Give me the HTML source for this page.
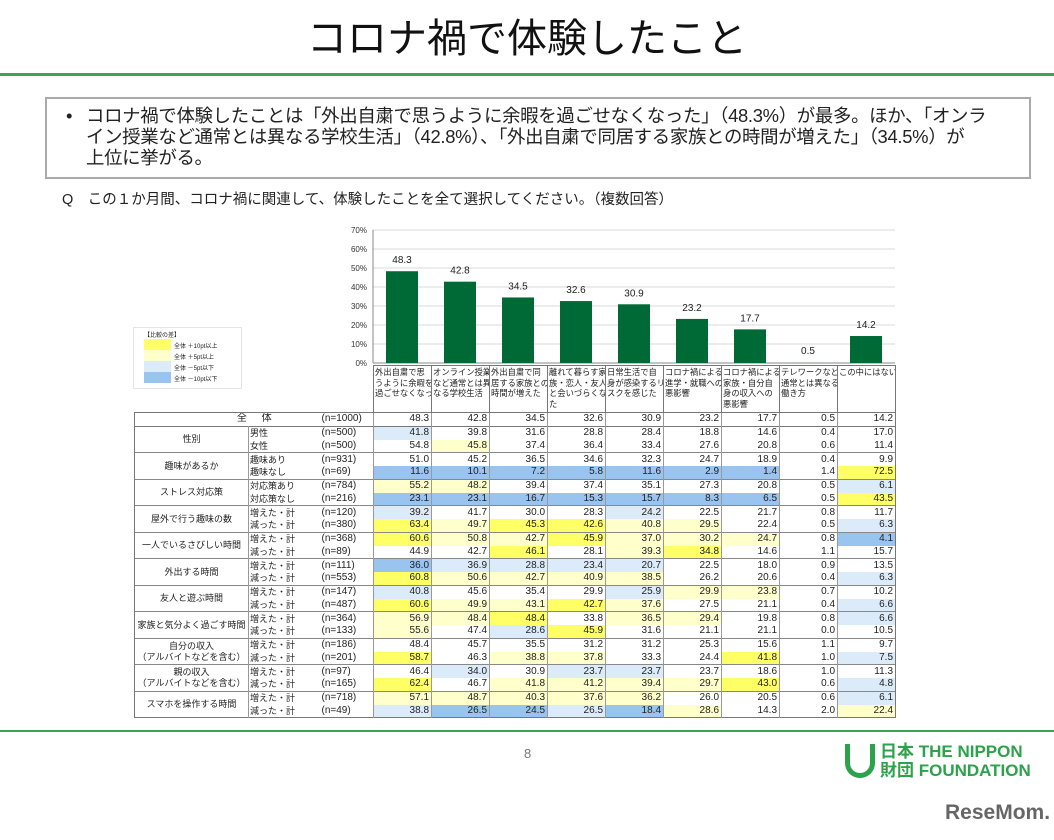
<!DOCTYPE html>
<html><head><meta charset="utf-8">
<style>
body{margin:0;width:1054px;height:840px;background:#fff;position:relative;overflow:hidden;font-family:"Liberation Sans","Noto Sans CJK JP",sans-serif;color:#222}
.abs{position:absolute}
#title{left:0;width:1054px;top:14px;text-align:center;font-size:40px;line-height:50px;color:#111}
.gline{left:0;width:1054px;height:3px;background:#3aa655}
#box{left:45px;top:97px;width:986px;height:82px;border:2px solid #aaa;box-sizing:border-box}
.bl{left:86px;font-size:18.4px;white-space:nowrap;line-height:20px;letter-spacing:-0.3px}
#q{left:62px;top:188px;font-size:14.5px;white-space:nowrap}
svg text{font-family:"Liberation Sans","Noto Sans CJK JP",sans-serif}
#tbl{left:134px;top:365px;width:761px;border-collapse:collapse;font-size:10px;table-layout:fixed}
#tbl td{padding-top:0;padding-bottom:0;overflow:hidden;white-space:nowrap}
#tbl tr.d{height:12.75px}
#tbl tr.d td{line-height:10px;height:12.75px}
</style></head><body>
<div id="title" class="abs">コロナ禍で体験したこと</div>
<div class="abs gline" style="top:73px"></div>
<div id="box" class="abs"></div>
<div class="abs bl" style="left:66px;top:106px">•</div>
<div class="abs bl" style="top:106px">コロナ禍で体験したことは「外出自粛で思うように余暇を過ごせなくなった」（48.3%）が最多。ほか、「オンラ</div>
<div class="abs bl" style="top:127px">イン授業など通常とは異なる学校生活」（42.8%）、「外出自粛で同居する家族との時間が増えた」（34.5%）が</div>
<div class="abs bl" style="top:148px">上位に挙がる。</div>
<div id="q" class="abs">Q　この１か月間、コロナ禍に関連して、体験したことを全て選択してください。（複数回答）</div>

<div class="abs" style="left:133px;top:327px;width:107px;height:60px;border:1px solid #e4e4e4;font-size:6px">
<div style="position:absolute;left:10px;top:2px">【比較の差】</div>
<div style="position:absolute;left:10px;top:11px;width:27px;height:11px;background:#ffff66"></div><div style="position:absolute;left:40px;top:13px">全体 ＋10pt以上</div>
<div style="position:absolute;left:10px;top:22px;width:27px;height:11px;background:#ffffcc"></div><div style="position:absolute;left:40px;top:24px">全体 ＋5pt以上</div>
<div style="position:absolute;left:10px;top:33px;width:27px;height:11px;background:#dcebfa"></div><div style="position:absolute;left:40px;top:35px">全体 －5pt以下</div>
<div style="position:absolute;left:10px;top:44px;width:27px;height:11px;background:#99c4ef"></div><div style="position:absolute;left:40px;top:46px">全体 －10pt以下</div>
</div>

<svg id="chart" class="abs" style="left:0;top:0" width="1054" height="420"></svg>
<table id="tbl" class="abs"></table>

<div class="abs gline" style="top:730px;height:2px"></div>
<div class="abs" style="left:524px;top:746px;font-size:13px;color:#777">8</div>
<div class="abs" style="left:845px;top:744px;width:30px;height:34px;border:5px solid #2ca24a;border-top:none;border-radius:0 0 16px 16px;box-sizing:border-box"></div>
<div class="abs" style="left:880px;top:742px;font-size:17px;line-height:19px;color:#2ca24a;font-weight:bold;white-space:nowrap">日本 THE NIPPON<br>財団 FOUNDATION</div>
<div class="abs" style="left:945px;top:801px;font-size:21px;font-weight:bold;color:#666">ReseMom.</div>

<script>
const categories=["外出自粛で思うように余暇を過ごせなくなった","オンライン授業など通常とは異なる学校生活","外出自粛で同居する家族との時間が増えた","離れて暮らす家族・恋人・友人と会いづらくなった","日常生活で自身が感染するリスクを感じた","コロナ禍による進学・就職への悪影響","コロナ禍による家族・自分自身の収入への悪影響","テレワークなど通常とは異なる働き方","この中にはない"];
const headerLines=[["外出自粛で思","うように余暇を","過ごせなくなった"],["オンライン授業","など通常とは異","なる学校生活"],["外出自粛で同","居する家族との","時間が増えた"],["離れて暮らす家","族・恋人・友人","と会いづらくなっ","た"],["日常生活で自","身が感染するリ","スクを感じた"],["コロナ禍による","進学・就職への","悪影響"],["コロナ禍による","家族・自分自","身の収入への","悪影響"],["テレワークなど","通常とは異なる","働き方"],["この中にはない"]];
const totals=[48.3,42.8,34.5,32.6,30.9,23.2,17.7,0.5,14.2];
const yTicks=[0,10,20,30,40,50,60,70];
const groups=["性別","趣味があるか","ストレス対応策","屋外で行う趣味の数","一人でいるさびしい時間","外出する時間","友人と遊ぶ時間","家族と気分よく過ごす時間","自分の収入\n（アルバイトなどを含む）","親の収入\n（アルバイトなどを含む）","スマホを操作する時間"];
const subLabels=[["男性","女性"],["趣味あり","趣味なし"],["対応策あり","対応策なし"],["増えた・計","減った・計"],["増えた・計","減った・計"],["増えた・計","減った・計"],["増えた・計","減った・計"],["増えた・計","減った・計"],["増えた・計","減った・計"],["増えた・計","減った・計"],["増えた・計","減った・計"]];
const nValues=[[500,500],[931,69],[784,216],[120,380],[368,89],[111,553],[147,487],[364,133],[186,201],[97,165],[718,49]];
const rowValues=[
[41.8,39.8,31.6,28.8,28.4,18.8,14.6,0.4,17.0],[54.8,45.8,37.4,36.4,33.4,27.6,20.8,0.6,11.4],
[51.0,45.2,36.5,34.6,32.3,24.7,18.9,0.4,9.9],[11.6,10.1,7.2,5.8,11.6,2.9,1.4,1.4,72.5],
[55.2,48.2,39.4,37.4,35.1,27.3,20.8,0.5,6.1],[23.1,23.1,16.7,15.3,15.7,8.3,6.5,0.5,43.5],
[39.2,41.7,30.0,28.3,24.2,22.5,21.7,0.8,11.7],[63.4,49.7,45.3,42.6,40.8,29.5,22.4,0.5,6.3],
[60.6,50.8,42.7,45.9,37.0,30.2,24.7,0.8,4.1],[44.9,42.7,46.1,28.1,39.3,34.8,14.6,1.1,15.7],
[36.0,36.9,28.8,23.4,20.7,22.5,18.0,0.9,13.5],[60.8,50.6,42.7,40.9,38.5,26.2,20.6,0.4,6.3],
[40.8,45.6,35.4,29.9,25.9,29.9,23.8,0.7,10.2],[60.6,49.9,43.1,42.7,37.6,27.5,21.1,0.4,6.6],
[56.9,48.4,48.4,33.8,36.5,29.4,19.8,0.8,6.6],[55.6,47.4,28.6,45.9,31.6,21.1,21.1,0.0,10.5],
[48.4,45.7,35.5,31.2,31.2,25.3,15.6,1.1,9.7],[58.7,46.3,38.8,37.8,33.3,24.4,41.8,1.0,7.5],
[46.4,34.0,30.9,23.7,23.7,23.7,18.6,1.0,11.3],[62.4,46.7,41.8,41.2,39.4,29.7,43.0,0.6,4.8],
[57.1,48.7,40.3,37.6,36.2,26.0,20.5,0.6,6.1],[38.8,26.5,24.5,26.5,18.4,28.6,14.3,2.0,22.4]];
const rowColors=[
"b........",".y.......",
".........","BBBBBBB.Y",
"yy......b","BBBBBBB.Y",
"b...b....","YyYYyy..b",
"YyyYyyy.B","..Y.yY...",
"Bbbbb....","Yyyyy...b",
"b...byy..","YyyYy...b",
"yyY.yy..b","y.bY.....",
".........","Y.yy..Y.b",
".b.bb....","Y.yyyyY.b",
"yyyyy...b","bBBbBy..y"];
const colorMap={"Y":"#ffff66","y":"#ffffcc","b":"#dcebfa","B":"#99c4ef",".":"#fff"};

const plotL=373,plotR=895,y0=363,y70=230;
const colW=(plotR-plotL)/categories.length;
function yScale(v){return y0-(v/70)*(y0-y70);}
function xCenter(i){return plotL+colW*(i+0.5);}
const svg=document.getElementById('chart');
const NS="http://www.w3.org/2000/svg";
yTicks.forEach(t=>{
  const l=document.createElementNS(NS,'line');
  
  
  l.setAttribute('x1',plotL);l.setAttribute('x2',plotR);l.setAttribute('y1',yScale(t));l.setAttribute('y2',yScale(t));
  l.setAttribute('stroke',t===0?'#888':'#d9d9d9');l.setAttribute('stroke-width','1');
  svg.appendChild(l);
  const tx=document.createElementNS(NS,'text');
  
  
  tx.setAttribute('x',plotL-6);tx.setAttribute('y',yScale(t)+3);tx.setAttribute('text-anchor','end');
  tx.setAttribute('font-size','8');tx.setAttribute('fill','#333');tx.textContent=t+'%';
  svg.appendChild(tx);
});
const ax=document.createElementNS(NS,'line');


ax.setAttribute('x1',plotL);ax.setAttribute('x2',plotL);ax.setAttribute('y1',y70);ax.setAttribute('y2',y0);ax.setAttribute('stroke','#888');
svg.appendChild(ax);
totals.forEach((v,i)=>{
  const r=document.createElementNS(NS,'rect');
  
  
  const bw=32;
  r.setAttribute('x',xCenter(i)-bw/2);r.setAttribute('width',bw);
  r.setAttribute('y',yScale(v));r.setAttribute('height',Math.max(0.8,y0-yScale(v)));
  r.setAttribute('fill',v<1?'#b0c8b8':'#006a37');
  svg.appendChild(r);
  const t=document.createElementNS(NS,'text');
  
  
  t.setAttribute('x',xCenter(i));t.setAttribute('y',yScale(v)-8);t.setAttribute('text-anchor','middle');
  t.setAttribute('font-size','10');t.setAttribute('fill','#222');t.textContent=v.toFixed(1);
  svg.appendChild(t);
});

const tbl=document.getElementById('tbl');
let h='<colgroup><col style="width:114px"><col style="width:72px"><col style="width:53px">';
for(let i=0;i<9;i++)h+='<col style="width:'+colW+'px">';
h+='</colgroup>';
h+='<tr style="height:46px"><td colspan="3" style="border:none"></td>';
headerLines.forEach((ls,i)=>{h+='<td style="border:1px solid #777;vertical-align:top;font-size:8.3px;line-height:10.6px;padding:1px 1px;height:44px">'+ls.join('<br>')+'</td>';});
h+='</tr>';
const cellS='padding:0 2px;text-align:right;border-left:1px solid #999;';
h+='<tr class="d" style="border:1px solid #777"><td colspan="2" style="text-align:center;padding-left:60px;letter-spacing:6px">全 体</td><td>(n=1000)</td>';
totals.forEach(v=>{h+='<td style="'+cellS+'">'+v.toFixed(1)+'</td>';});
h+='</tr>';
groups.forEach((g,gi)=>{
  for(let k=0;k<2;k++){
    const ri=gi*2+k;
    h+='<tr class="d" style="'+(k===0?'border-top:1px solid #888;':'')+(gi===groups.length-1&&k===1?'border-bottom:1px solid #777;':'')+'">';
    if(k===0)h+='<td rowspan="2" style="text-align:center;font-size:9px;line-height:11px;border-left:1px solid #777;border-right:1px solid #999;white-space:pre">'+g+'</td>';
    h+='<td style="font-size:9px;padding-left:1px">'+subLabels[gi][k]+'</td><td>(n='+nValues[gi][k]+')</td>';
    rowValues[ri].forEach((v,ci)=>{
      const c=colorMap[rowColors[ri][ci]];
      h+='<td style="'+cellS+'background:'+c+(ci===8?';border-right:1px solid #777':'')+'">'+v.toFixed(1)+'</td>';
    });
    h+='</tr>';
  }
});
tbl.innerHTML=h;
</script>
</body></html>
